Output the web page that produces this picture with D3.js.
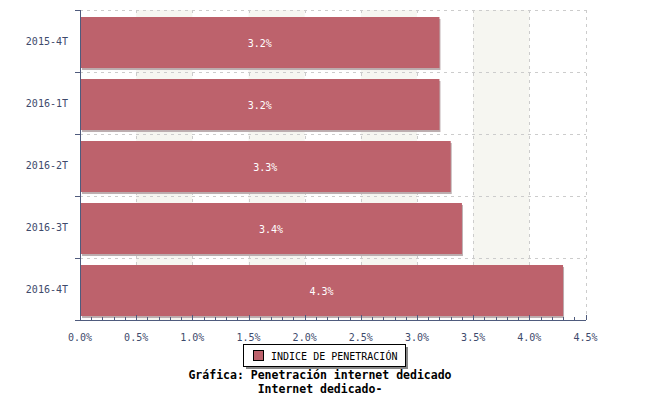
<!DOCTYPE html>
<html><head><meta charset="utf-8">
<script src="https://cdn.jsdelivr.net/npm/d3@7"></script>
<style>body{margin:0;background:#fff}svg{display:block}</style>
</head><body>
<svg id="c" width="650" height="400"></svg>
<script>
const categories = ["2015-4T","2016-1T","2016-2T","2016-3T","2016-4T"];
const values = [3.2, 3.2, 3.3, 3.4, 4.3];
const xTicks = [0,0.5,1,1.5,2,2.5,3,3.5,4,4.5];
const seriesName = "INDICE DE PENETRACIÓN";
const titleLines = ["Gráfica: Penetración internet dedicado","Internet dedicado-"];

const svg = d3.select("#c");
const L = 80, R = 585.5, T = 10, B = 320;
const font = "'DejaVu Sans Mono', monospace";
const axisCol = "#4f5b7d", textCol = "#3e4a6c", barCol = "#bd626c";

const x = d3.scaleLinear().domain([0,4.5]).range([L,R]);
const y = d3.scaleBand().domain(categories).range([T,B]).padding(0);

// alternate shading
const bands = xTicks.slice(0,-1).filter((d,i)=>i%2===1);
svg.append("g").selectAll("rect").data(bands).join("rect")
  .attr("x",d=>x(d)).attr("y",T).attr("width",d=>x(d+0.5)-x(d)).attr("height",B-T)
  .attr("fill","#f6f6f1");

// grid
const g = svg.append("g").attr("stroke","#cccccc").attr("stroke-dasharray","3,4").attr("shape-rendering","crispEdges");
g.selectAll("line.v").data(xTicks.slice(1)).join("line")
  .attr("x1",d=>Math.round(x(d))+0.5).attr("x2",d=>Math.round(x(d))+0.5).attr("y1",T).attr("y2",B);
g.selectAll("line.h").data(categories).join("line")
  .attr("x1",L).attr("x2",R).attr("y1",d=>y(d)+0.5).attr("y2",d=>y(d)+0.5);

// bars
const bw = y.bandwidth();
const bars = svg.append("g");
bars.selectAll("rect.s").data(values).join("rect")
  .attr("x",x(0)+2).attr("y",(d,i)=>y(categories[i])+bw*0.113+2)
  .attr("width",d=>x(d)-x(0)-1).attr("height",bw*0.823)
  .attr("fill","#bcaeb0");
bars.selectAll("rect.b").data(values).join("rect")
  .attr("x",x(0)).attr("y",(d,i)=>y(categories[i])+bw*0.113)
  .attr("width",d=>x(d)-x(0)).attr("height",bw*0.823)
  .attr("fill",barCol);
bars.selectAll("text").data(values).join("text")
  .attr("x",d=>(x(0)+x(d))/2).attr("y",(d,i)=>y(categories[i])+bw*0.113+bw*0.823/2+4)
  .attr("text-anchor","middle").attr("fill","#ffffff")
  .attr("font-family",font).attr("font-size","10px")
  .text(d=>d.toFixed(1)+"%");

// axes
const ax = svg.append("g").attr("stroke",axisCol).attr("shape-rendering","crispEdges");
ax.append("line").attr("x1",L-5).attr("x2",R+0.5).attr("y1",B+0.5).attr("y2",B+0.5);
ax.append("line").attr("x1",L+0.5).attr("x2",L+0.5).attr("y1",T).attr("y2",B);
const minor = d3.range(0,45).map(i=>i/10).concat([4.5]);
ax.selectAll("line.mn").data(minor).join("line")
  .attr("x1",d=>Math.round(x(d))+0.5).attr("x2",d=>Math.round(x(d))+0.5)
  .attr("y1",(d,i)=>B-(i%5===0?5:3)).attr("y2",B);
ax.selectAll("line.yt").data(categories.concat(["end"])).join("line")
  .attr("x1",L-5).attr("x2",L)
  .attr("y1",(d,i)=>(i<categories.length?y(d):B)+0.5).attr("y2",(d,i)=>(i<categories.length?y(d):B)+0.5);

svg.append("g").selectAll("text").data(xTicks).join("text")
  .attr("x",d=>x(d)).attr("y",B+21).attr("text-anchor","middle")
  .attr("fill",textCol).attr("font-family",font).attr("font-size","10px")
  .text(d=>d.toFixed(1)+"%");
svg.append("g").selectAll("text").data(categories).join("text")
  .attr("x",L-12).attr("y",d=>y(d)+bw/2+4).attr("text-anchor","end")
  .attr("fill",textCol).attr("font-family",font).attr("font-size","10px")
  .text(d=>d);

// legend
const lg = svg.append("g");
lg.append("rect").attr("x",246).attr("y",347).attr("width",162).attr("height",22).attr("fill","#888");
lg.append("rect").attr("x",243.5).attr("y",344.5).attr("width",162).attr("height",22).attr("fill","#fff").attr("stroke","#000");
lg.append("rect").attr("x",253.5).attr("y",350.5).attr("width",10).attr("height",10).attr("fill",barCol).attr("stroke","#000");
lg.append("text").attr("x",271).attr("y",360).attr("fill","#000").attr("font-family",font).attr("font-size","10px").text(seriesName);

// title
svg.append("g").selectAll("text").data(titleLines).join("text")
  .attr("x",320).attr("y",(d,i)=>379+i*14).attr("text-anchor","middle")
  .attr("fill","#000").attr("font-family",font).attr("font-weight","bold").attr("font-size","11.5px")
  .text(d=>d);
</script>
</body></html>
